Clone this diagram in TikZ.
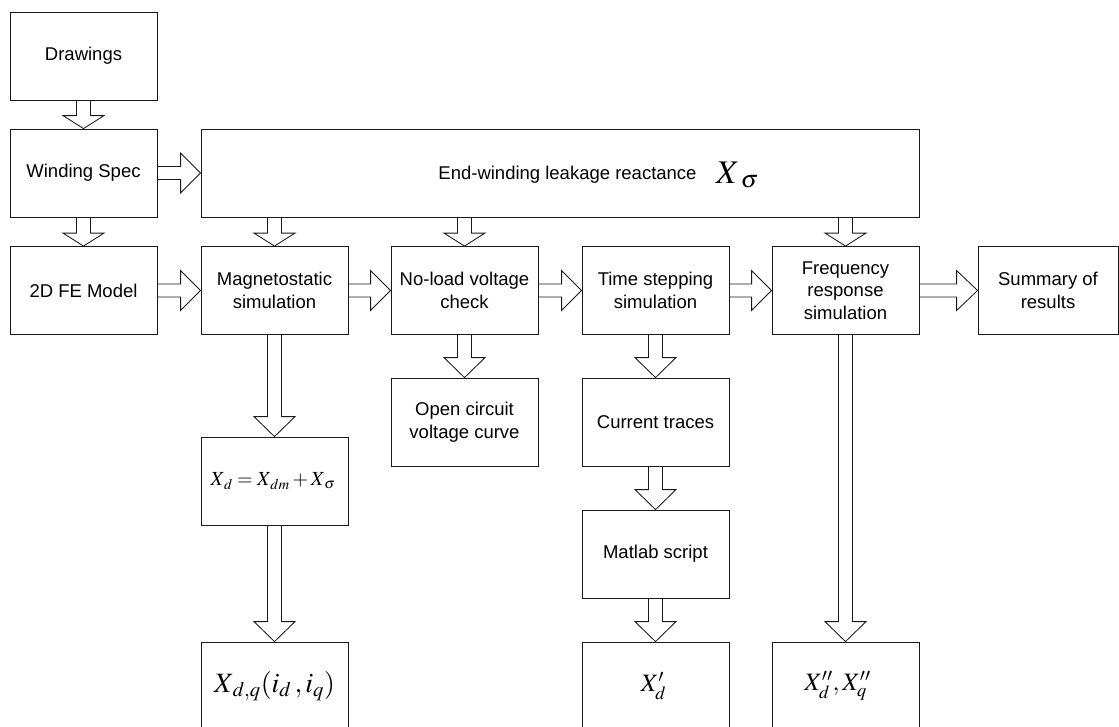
\documentclass[tikz,border=0pt]{standalone}
\usepackage{mathptmx}
\usepackage[no-math]{fontspec}
\setmainfont{Liberation Sans}
\usetikzlibrary{calc,backgrounds}
\tikzset{
  box/.style={draw=black!90, line width=0.85pt, minimum width=147pt, minimum height=88pt, inner sep=0pt, align=center, font=\fontsize{18.5}{22.5}\selectfont},
  blockarrow/.style={draw=black!90, line width=0.85pt, fill=white, line join=miter},
  lbl/.style={inner sep=0pt, font=\fontsize{18.5}{22.5}\selectfont},
}
\newcommand{\darr}[3][20]{%
  \draw[blockarrow] ($(#2.south -| #3.north)+(-7,0)$) -- ($(#3.north)+(-7,-#1)$) -- ($(#3.north)+(-20.5,-#1)$) -- (#3.north) -- ($(#3.north)+(20.5,-#1)$) -- ($(#3.north)+(7,-#1)$) -- ($(#2.south -| #3.north)+(7,0)$);}
\newcommand{\rarr}[3][20]{%
  \draw[blockarrow] ($(#2.east |- #3.west)+(0,-6.5)$) -- ($(#3.west)+(-#1,-6.5)$) -- ($(#3.west)+(-#1,-20)$) -- (#3.west) -- ($(#3.west)+(-#1,20)$) -- ($(#3.west)+(-#1,6.5)$) -- ($(#2.east |- #3.west)+(0,6.5)$);}
\begin{document}
\begin{tikzpicture}[x=1pt,y=-1pt]
\useasboundingbox (0,0) rectangle (1119,726);
\node[box] (drw) at (83.5,56) {Drawings};
\node[box] (wind) at (83.5,173) {Winding Spec};
\node[box, minimum width=718pt] (leak) at (560,173) {};
\node[lbl, anchor=base] (leaktxt) at (567.5,179) {End-winding leakage reactance};
\node[inner sep=0pt, anchor=base west, font=\fontsize{33}{36}\selectfont] (xs) at (716,183) {$X_{\;\sigma}$};
\node[box] (fe) at (83.5,290.5) {2D FE Model};
\node[box] (mag) at (274.5,290.5) {Magnetostatic\\simulation};
\node[box] (nol) at (464.5,290.5) {No-load voltage\\check};
\node[box] (ts) at (655.5,290.5) {Time stepping\\simulation};
\node[box] (fr) at (845.5,290.5) {Frequency\\response\\simulation};
\node[box, minimum width=140pt] (sum) at (1048,290.5) {Summary of\\results};
\node[box] (oc) at (464.5,422) {Open circuit\\voltage curve};
\node[box] (ct) at (655.5,422) {Current traces};
\node[box] (ml) at (655.5,554) {Matlab script};
\node[box, font=\fontsize{20}{24}\selectfont] (xd) at (274.5,481) {$X_{\,d} \mathrel{=} X_{\,dm} + X_{\,\sigma}\hspace{3pt}$};
\node[box, font=\fontsize{28}{32}\selectfont] (xdq) at (274.5,686) {$X_{\,d,q}(i_{d}\,,i_{q})$};
\node[box, font=\fontsize{25}{28}\selectfont] (xp) at (655.5,686) {$X'_{d}\hspace{4pt}$};
\node[box, font=\fontsize{25}{28}\selectfont] (xpp) at (845.5,686) {$X''_{d}, X''_{q}\hspace{16pt}$};
\begin{scope}[on background layer]
\darr[13]{drw}{wind}
\darr[13]{wind}{fe}
\darr[13]{leak}{mag}
\darr[13]{leak}{nol}
\darr[13]{leak}{fr}
\rarr{wind}{leak}
\rarr{fe}{mag}
\rarr{mag}{nol}
\rarr{nol}{ts}
\rarr{ts}{fr}
\rarr[21]{fr}{sum}
\darr{mag}{xd}
\darr{xd}{xdq}
\darr{nol}{oc}
\darr{ts}{ct}
\darr{ct}{ml}
\darr{ml}{xp}
\darr{fr}{xpp}
\end{scope}
\end{tikzpicture}
\end{document}
